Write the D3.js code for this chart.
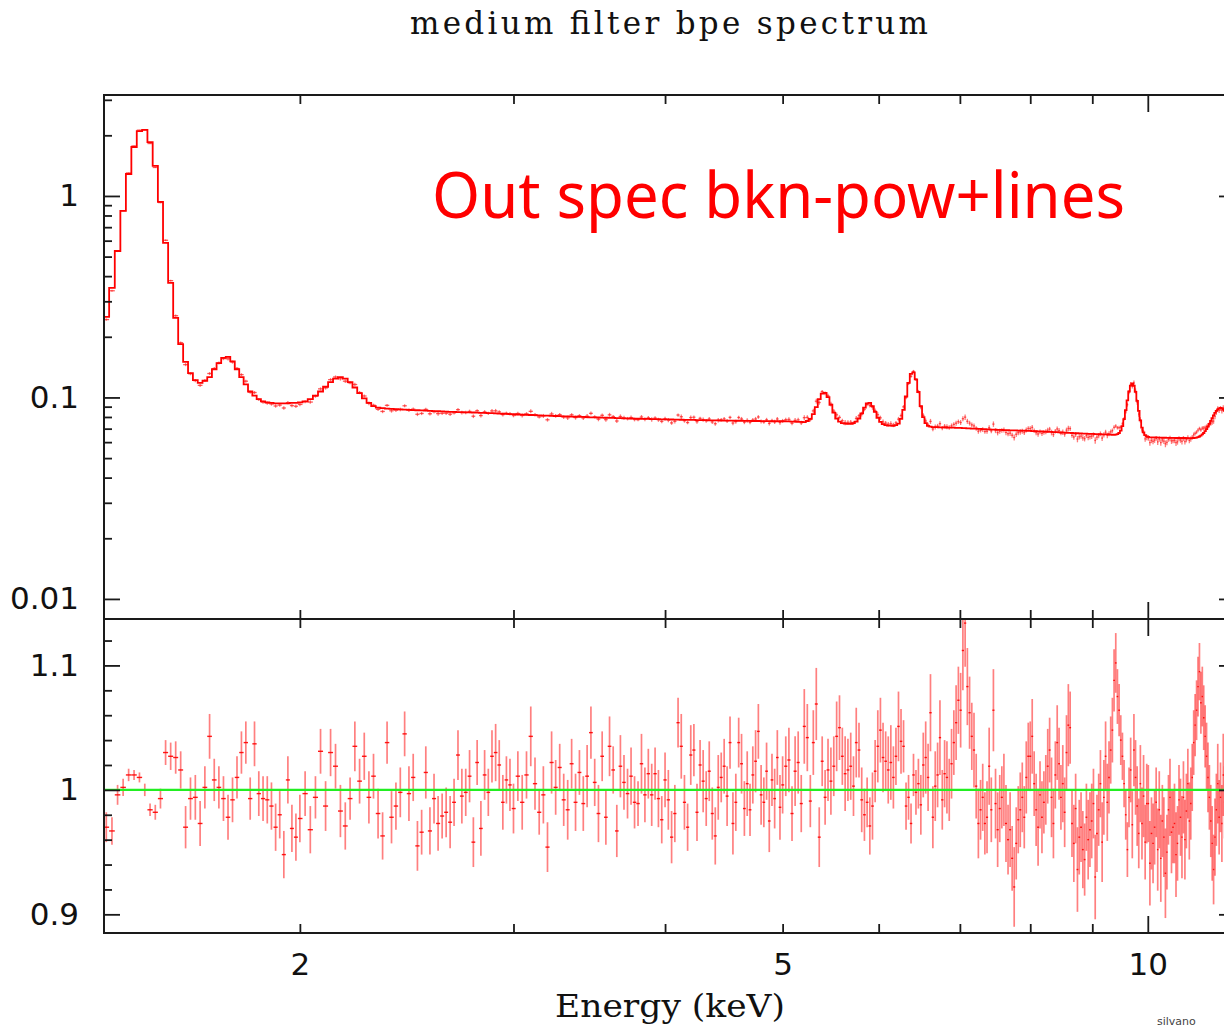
<!DOCTYPE html>
<html>
<head>
<meta charset="utf-8">
<script src="https://cdn.jsdelivr.net/npm/d3@7"></script>
<style>
  html, body { margin: 0; padding: 0; background: #fff; }
  svg { display: block; }
</style>
</head>
<body>
<svg id="chart" width="1224" height="1028"></svg>
<script>
// channel energies (keV)
const energy = [
  1.385,1.4,1.415,1.43,1.445,1.46,1.475,1.49,1.505,1.52,1.535,1.55,1.565,1.58,1.595,1.61,1.625,1.64,1.655,1.67,1.685,
  1.7,1.715,1.73,1.745,1.76,1.775,1.79,1.805,1.82,1.835,1.85,1.865,1.88,1.895,1.91,1.925,1.94,1.955,1.97,1.985,2.0,
  2.02,2.04,2.06,2.08,2.1,2.12,2.14,2.16,2.18,2.2,2.22,2.24,2.26,2.28,2.3,2.32,2.34,2.36,2.38,2.4,2.42,2.44,2.46,2.48,
  2.5,2.52,2.54,2.56,2.58,2.6,2.62,2.64,2.66,2.68,2.7,2.72,2.74,2.76,2.78,2.8,2.82,2.84,2.86,2.88,2.9,2.92,2.94,2.96,2.98,3.0,
  3.025,3.05,3.075,3.1,3.125,3.15,3.175,3.2,3.225,3.25,3.275,3.3,3.325,3.35,3.375,3.4,3.425,3.45,3.475,3.5,
  3.525,3.55,3.575,3.6,3.625,3.65,3.675,3.7,3.725,3.75,3.775,3.8,3.825,3.85,3.875,3.9,3.925,3.95,3.975,4.0,
  4.025,4.05,4.075,4.1,4.125,4.15,4.175,4.2,4.225,4.25,4.275,4.3,4.325,4.35,4.375,4.4,4.425,4.45,4.475,4.5,
  4.525,4.55,4.575,4.6,4.625,4.65,4.675,4.7,4.725,4.75,4.775,4.8,4.825,4.85,4.875,4.9,4.925,4.95,4.975,5.0,
  5.03,5.06,5.09,5.12,5.15,5.18,5.21,5.24,5.27,5.3,5.33,5.36,5.39,5.42,5.45,5.48,5.51,5.54,5.57,5.6,5.63,5.66,5.69,5.72,5.75,5.78,5.81,5.84,5.87,5.9,5.93,5.96,5.99,
  6.02,6.05,6.08,6.11,6.14,6.17,6.2,6.23,6.26,6.29,6.32,6.35,6.38,6.41,6.44,6.47,6.5,6.53,6.56,6.59,6.62,6.65,6.68,6.71,6.74,6.77,6.8,6.83,6.86,6.89,6.92,6.95,6.98,
  7.01,7.04,7.07,7.1,7.13,7.16,7.19,7.22,7.25,7.28,7.31,7.34,7.37,7.4,7.43,7.46,7.49,7.52,7.55,7.58,7.61,7.64,7.67,7.7,7.73,7.76,7.79,7.82,7.85,7.88,7.91,7.94,7.97,
  8.0,8.03,8.06,8.09,8.12,8.15,8.18,8.21,8.24,8.27,8.3,8.33,8.36,8.39,8.42,8.45,8.48,8.51,8.54,8.57,8.6,8.63,8.66,8.69,8.72,8.75,8.78,8.81,8.84,8.87,8.9,8.93,8.96,
  8.99,9.02,9.05,9.08,9.11,9.14,9.17,9.2,9.23,9.26,9.29,9.32,9.35,9.38,9.41,9.44,9.47,9.5,9.53,9.56,9.59,9.62,9.65,9.68,9.71,9.74,9.77,9.8,9.83,9.86,9.89,9.92,9.95,9.98,
  10.01,10.04,10.07,10.1,10.13,10.16,10.19,10.22,10.25,10.28,10.31,10.34,10.37,10.4,10.43,10.46,10.49,10.52,10.55,10.58,10.61,10.64,10.67,10.7,10.73,10.76,10.79,10.82,10.85,10.88,10.91,10.94,10.97,
  11.0,11.03,11.06,11.09,11.12,11.15,11.18,11.21,11.24,11.27,11.3,11.33,11.36,11.39,11.42,11.45,11.48,11.51,11.54,11.57,11.6,11.63,11.66,11.69,11.72,11.75,11.78
];

// folded model (counts/s/keV) per channel
const modelFlux = [
  0.251,0.35,0.533,0.843,1.285,1.75,2.1,2.13,1.85,1.41,0.934,0.585,0.37,0.248,0.184,0.15,0.132,0.122,0.118,0.121,0.126,
  0.138,0.148,0.157,0.159,0.151,0.138,0.126,0.116,0.107,0.102,0.098,0.0955,0.0945,0.094,0.0935,0.0935,0.0935,0.0935,0.094,0.094,0.0945,
  0.0955,0.098,0.102,0.107,0.113,0.119,0.124,0.126,0.124,0.119,0.112,0.105,0.099,0.094,0.0905,0.089,0.0885,0.088,0.0878,0.0875,
  0.0873,0.087,0.0868,0.0866,0.0864,0.0862,0.086,0.0858,0.0856,0.0854,0.0852,0.085,0.0848,0.0847,0.0846,0.0845,0.0844,0.0843,
  0.0842,0.0841,0.0839,0.0838,0.0836,0.0835,0.0833,0.0831,0.083,0.0828,0.0827,0.0826,
  0.0823,0.0822,0.082,0.0818,0.0817,0.0815,0.0813,0.0812,0.081,0.0809,0.0807,0.0806,0.0805,0.0803,0.0802,0.0801,0.08,0.0798,0.0797,0.0796,
  0.0795,0.0794,0.0793,0.0792,0.0791,0.079,0.0789,0.0788,0.0787,0.0786,0.0785,0.0784,0.0783,0.0783,0.0782,0.0781,0.078,0.078,0.0779,0.0778,
  0.0778,0.0777,0.0776,0.0776,0.0775,0.0774,0.0774,0.0773,0.0773,0.0772,0.0772,0.0771,0.0771,0.077,0.077,0.0769,0.0769,0.0768,0.0768,0.0768,
  0.0767,0.0767,0.0766,0.0766,0.0766,0.0765,0.0765,0.0765,0.0764,0.0764,0.0764,0.0763,0.0763,0.0763,0.0763,0.0762,0.0762,0.0762,0.0762,0.0762,
  0.0761,0.076,0.0759,0.0758,0.0757,0.0756,0.0755,0.0764,0.0783,0.0826,0.0896,0.0981,0.1045,0.1054,0.1003,0.092,0.084,0.0786,0.0758,0.0746,
  0.0741,0.074,0.0739,0.0745,0.0758,0.0786,0.0833,0.089,0.0933,0.0939,0.0905,0.0848,0.0793,
  0.0756,0.0737,0.0729,0.0725,0.0724,0.0723,0.0728,0.0742,0.0782,0.0868,0.1011,0.118,0.1309,0.1331,0.123,0.1064,0.0906,0.0799,0.0745,0.0723,
  0.0716,0.0713,0.0712,0.0712,0.0711,0.0711,0.071,0.0709,0.0709,0.0708,0.0708,0.0707,0.0707,
  0.0706,0.0705,0.0704,0.0703,0.0702,0.0701,0.07,0.07,0.0699,0.0698,0.0697,0.0696,0.0695,0.0694,0.0693,0.0693,0.0692,0.0691,0.069,0.069,
  0.0689,0.0689,0.0688,0.0687,0.0687,0.0686,0.0686,0.0685,0.0685,0.0684,0.0684,0.0683,0.0683,
  0.0682,0.0681,0.0681,0.068,0.0679,0.0678,0.0678,0.0677,0.0676,0.0675,0.0675,0.0674,0.0673,0.0672,0.0672,0.0671,0.067,0.0669,0.0669,0.0668,
  0.0667,0.0667,0.0666,0.0665,0.0665,0.0664,0.0663,0.0663,0.0662,0.0661,0.0661,0.066,0.066,
  0.0659,0.0659,0.0658,0.0658,0.0657,0.0657,0.0656,0.0656,0.0655,0.0655,0.0654,0.0654,0.0653,0.0653,0.0654,0.0658,0.0666,0.0685,0.0721,0.078,
  0.0865,0.0968,0.107,0.1145,0.1173,0.1143,0.1066,0.0962,0.0857,0.077,0.0709,0.0671,0.065,0.0641,
  0.0637,0.0634,0.0634,0.0633,0.0633,0.0633,0.0632,0.0632,0.0632,0.0631,0.0631,0.0631,0.063,0.063,0.063,0.063,0.063,0.063,0.0629,0.0629,
  0.0629,0.0629,0.0629,0.0629,0.0629,0.0628,0.0628,0.0628,0.0628,0.0628,0.0629,0.063,0.0632,
  0.0635,0.064,0.0646,0.0655,0.0666,0.068,0.0697,0.0717,0.074,0.0765,0.079,0.0815,0.0838,0.0858,0.0873,0.0883,0.0887,0.0884,0.0874,0.0858,
  0.0838,0.0815,0.079,0.0765,0.074,0.0717,0.0697
];

// data / model ratio per channel
const ratio = [
  0.97,0.967,0.996,1.002,1.012,1.012,1.01,1.0,0.984,0.982,0.993,1.03,1.027,1.026,1.016,0.97,0.993,0.994,0.973,1.002,1.043,
  1.008,1.002,0.993,0.978,0.992,1.01,1.03,1.038,0.993,1.037,0.997,0.993,0.992,0.987,0.97,0.98,0.948,1.008,0.969,0.962,0.977,
  0.997,0.968,0.994,1.031,0.987,1.03,1.019,0.983,0.971,0.993,1.035,1.007,1.027,0.994,1.011,0.981,0.963,1.038,0.978,0.987,
  0.998,1.045,0.997,1.01,0.955,0.966,1.014,0.967,0.993,0.973,0.979,0.982,0.974,0.99,1.028,0.995,0.998,1.011,0.958,1.022,
  0.969,1.012,0.998,1.027,1.03,1.02,0.99,1.008,1.004,0.985,
  1.011,0.99,1.012,1.043,1.005,0.982,0.996,0.954,1.022,1.002,1.018,0.992,0.984,1.021,0.99,1.014,0.989,1.011,1.046,1.006,
  0.981,1.027,0.978,1.035,1.016,0.967,1.019,1.006,0.997,1.011,0.99,0.989,1.021,0.996,1.013,0.996,1.013,0.993,0.976,1.008,
  0.992,0.962,0.981,1.054,1.035,0.99,0.97,1.028,1.032,0.982,1.02,1.007,0.993,1.015,
  0.981,0.963,1.002,1.01,1.019,0.995,1.038,0.973,0.99,1.038,1.021,0.985,1.005,0.984,1.012,1.023,1.047,0.996,0.99,1.015,
  0.975,1.008,0.993,1.026,0.986,1.004,
  1.019,1.024,0.981,1.015,1.022,0.989,1.051,1.042,0.991,1.038,1.069,0.962,1.023,0.994,1.016,1.007,1.019,1.043,1.05,1.027,
  1.013,1.016,1.019,1.003,1.038,1.032,0.992,0.98,0.99,0.971,0.987,1.015,1.035,
  1.048,1.026,1.023,1.016,1.022,1.01,1.027,1.051,1.039,1.035,0.987,0.994,0.973,1.012,0.998,1.005,0.988,1.02,1.026,1.01,
  1.062,0.978,1.003,1.012,1.042,0.992,1.013,1.01,1.0,1.021,1.038,1.054,1.072,
  1.064,1.112,1.134,1.083,1.062,1.043,1.032,1.003,0.973,0.984,0.994,0.973,0.978,1.019,0.984,1.064,0.989,0.968,0.985,0.994,
  1.0,0.973,0.96,0.968,0.945,0.922,0.957,0.976,0.984,0.994,0.978,1.01,1.027,
  1.027,1.043,1.005,0.984,0.97,0.996,0.978,0.99,1.0,1.019,1.032,0.994,0.973,1.012,1.038,1.021,0.994,1.005,0.982,1.03,
  1.052,1.05,0.973,0.957,0.985,0.936,0.962,0.97,0.952,0.944,0.978,0.96,0.968,
  0.975,0.989,0.93,0.965,0.984,1.005,0.958,0.994,1.027,0.99,1.01,1.032,1.048,1.088,1.102,1.075,1.064,1.04,1.027,1.005,
  0.98,0.952,0.994,1.016,0.972,1.032,1.01,0.987,0.965,1.005,0.973,0.995,0.958,0.989,
  0.989,0.941,0.965,0.957,0.97,0.99,0.952,0.984,0.945,0.975,0.962,0.933,0.95,0.984,0.994,0.966,0.97,0.973,0.948,0.957,
  0.992,0.978,0.962,0.994,0.96,0.983,1.005,0.975,0.989,1.01,1.038,1.052,1.064,
  1.083,1.095,1.07,1.075,1.058,1.043,1.027,1.01,0.994,0.975,0.957,0.936,0.962,0.984,1.005,0.978,0.994,0.973,1.012,0.99,
  1.02,0.985,1.004,0.97,0.998,1.015,0.988
];

// 1-sigma error on the ratio
const ratioErr = [
  0.012,0.011,0.008,0.007,0.005,0.004,0.004,0.005,0.005,0.006,0.008,0.01,0.011,0.013,0.015,0.017,0.017,0.018,0.018,0.017,0.018,
  0.017,0.017,0.018,0.018,0.018,0.017,0.017,0.017,0.017,0.018,0.018,0.018,0.019,0.019,0.019,0.019,0.019,0.019,0.019,0.019,0.019,
  0.018,0.019,0.017,0.018,0.02,0.019,0.018,0.021,0.019,0.017,0.02,0.018,0.019,0.021,0.018,0.02,0.019,0.017,0.021,0.019,
  0.02,0.018,0.022,0.019,0.02,0.018,0.021,0.019,0.02,0.022,0.018,0.02,0.021,0.019,0.02,0.022,0.019,0.021,0.02,0.018,
  0.022,0.02,0.019,0.021,0.023,0.02,0.022,0.019,0.021,0.02,
  0.02,0.022,0.019,0.024,0.021,0.018,0.023,0.02,0.025,0.022,0.019,0.021,0.024,0.02,0.023,0.018,0.022,0.025,0.021,0.019,
  0.023,0.02,0.022,0.024,0.019,0.021,0.025,0.022,0.02,0.023,0.021,0.018,0.024,0.022,0.02,0.025,0.021,0.023,0.019,0.022,
  0.024,0.021,0.023,0.02,0.026,0.022,0.019,0.024,0.021,0.023,0.02,0.025,0.022,0.024,0.021,0.023,0.026,0.02,0.022,0.024,
  0.021,0.025,0.023,0.02,0.024,0.022,0.026,0.021,0.023,0.025,0.022,0.024,0.02,0.023,0.025,0.021,0.024,0.022,0.026,0.023,
  0.024,0.026,0.022,0.028,0.025,0.023,0.03,0.027,0.021,0.026,0.029,0.024,0.02,0.022,0.025,0.027,0.024,0.028,0.026,0.023,
  0.03,0.025,0.027,0.024,0.028,0.022,0.026,0.021,0.02,0.023,0.027,0.025,0.029,
  0.026,0.028,0.024,0.027,0.03,0.025,0.023,0.028,0.026,0.021,0.019,0.018,0.016,0.017,0.018,0.02,0.024,0.026,0.029,0.027,
  0.031,0.025,0.028,0.026,0.03,0.024,0.027,0.029,0.025,0.028,0.026,0.03,0.027,
  0.03,0.032,0.035,0.031,0.029,0.027,0.03,0.026,0.028,0.024,0.027,0.025,0.029,0.031,0.026,0.033,0.028,0.03,0.027,0.025,
  0.029,0.031,0.028,0.03,0.026,0.032,0.029,0.027,0.03,0.028,0.025,0.029,0.027,
  0.028,0.03,0.026,0.029,0.031,0.027,0.029,0.025,0.028,0.03,0.026,0.032,0.028,0.027,0.03,0.029,0.026,0.031,0.028,0.03,
  0.033,0.029,0.027,0.031,0.028,0.034,0.03,0.028,0.031,0.029,0.027,0.032,0.03,
  0.03,0.028,0.034,0.031,0.029,0.027,0.032,0.03,0.028,0.031,0.029,0.027,0.026,0.025,0.024,0.022,0.021,0.02,0.019,0.019,
  0.02,0.022,0.024,0.026,0.027,0.029,0.03,0.032,0.028,0.031,0.029,0.033,0.03,0.032,
  0.031,0.034,0.029,0.032,0.03,0.028,0.033,0.031,0.035,0.029,0.032,0.036,0.03,0.028,0.031,0.033,0.029,0.032,0.034,0.03,
  0.028,0.031,0.033,0.029,0.032,0.03,0.028,0.031,0.029,0.027,0.026,0.025,0.024,
  0.024,0.023,0.025,0.024,0.026,0.025,0.027,0.028,0.026,0.029,0.03,0.028,0.031,0.029,0.032,0.03,0.028,0.031,0.033,0.029,
  0.032,0.03,0.028,0.031,0.029,0.032,0.03
];

// axis ticks
const xLabelTicks = [2, 5, 10];
const xMinorTicks = [2, 3, 4, 5, 6, 7, 8, 9];
const xMajorTicks = [10];
const fluxMajorTicks = [0.01, 0.1, 1];
const fluxMinorTicks = [0.02, 0.03, 0.04, 0.05, 0.06, 0.07, 0.08, 0.09, 0.2, 0.3, 0.4, 0.5, 0.6, 0.7, 0.8, 0.9, 2, 3];
const ratioMajorTicks = [0.9, 1, 1.1];
const ratioMinorTicks = [0.92, 0.94, 0.96, 0.98, 1.02, 1.04, 1.06, 1.08, 1.12];

const svg = d3.select('#chart');
const padL = 104, padR = 1235, yTop = 95, yMid = 619, yBottom = 933;

const x = d3.scaleLog().domain([1.379, 11.8]).range([padL, padR]);
const yFlux = d3.scaleLog().domain([0.00795, 3.17]).range([yMid, yTop]);
const yRatio = d3.scaleLinear().domain([0.885, 1.1373]).range([yBottom, yMid]);

const n = Math.min(energy.length, modelFlux.length, ratio.length, ratioErr.length);
const bins = [];
for (let i = 0; i < n; i++) {
  const e = energy[i];
  const prev = i > 0 ? energy[i - 1] : e - (energy[1] - energy[0]);
  const next = i < n - 1 ? energy[i + 1] : e + (e - energy[i - 1]);
  bins.push({ e: e, lo: (prev + e) / 2, hi: (e + next) / 2, m: modelFlux[i], r: ratio[i], err: ratioErr[i] });
}

const defs = svg.append('defs');
defs.append('clipPath').attr('id', 'clipTop').append('rect')
  .attr('x', padL).attr('y', yTop).attr('width', padR - padL).attr('height', yMid - yTop);
defs.append('clipPath').attr('id', 'clipBot').append('rect')
  .attr('x', padL).attr('y', yMid).attr('width', padR - padL).attr('height', yBottom - yMid);

/* Top panel: data crosses + model histogram */
const topG = svg.append('g').attr('clip-path', 'url(#clipTop)');
topG.selectAll('line.fv').data(bins).enter().append('line')
  .attr('class', 'fv')
  .attr('x1', d => x(d.e)).attr('x2', d => x(d.e))
  .attr('y1', d => yFlux(d.m * (d.r - d.err))).attr('y2', d => yFlux(d.m * (d.r + d.err)))
  .attr('stroke', '#ff2020').attr('stroke-opacity', 0.6).attr('stroke-width', 1.3);
topG.selectAll('line.fh').data(bins).enter().append('line')
  .attr('class', 'fh')
  .attr('x1', d => x(d.lo)).attr('x2', d => x(d.hi))
  .attr('y1', d => yFlux(d.m * d.r)).attr('y2', d => yFlux(d.m * d.r))
  .attr('stroke', '#ff2020').attr('stroke-opacity', 0.75).attr('stroke-width', 1.3);

const stepPts = bins.map(d => [d.lo, d.m]);
stepPts.push([bins[n - 1].hi, bins[n - 1].m]);
topG.append('path')
  .datum(stepPts)
  .attr('fill', 'none')
  .attr('stroke', '#ff0000')
  .attr('stroke-width', 1.8)
  .attr('d', d3.line().x(d => x(d[0])).y(d => yFlux(d[1])).curve(d3.curveStepAfter));

/* Bottom panel: ratio */
const botG = svg.append('g').attr('clip-path', 'url(#clipBot)');
botG.selectAll('line.rv').data(bins).enter().append('line')
  .attr('class', 'rv')
  .attr('x1', d => x(d.e)).attr('x2', d => x(d.e))
  .attr('y1', d => yRatio(d.r - d.err)).attr('y2', d => yRatio(d.r + d.err))
  .attr('stroke', '#ff0000').attr('stroke-opacity', 0.5).attr('stroke-width', 1.7);
botG.selectAll('line.rh').data(bins).enter().append('line')
  .attr('class', 'rh')
  .attr('x1', d => x(d.lo)).attr('x2', d => x(d.hi))
  .attr('y1', d => yRatio(d.r)).attr('y2', d => yRatio(d.r))
  .attr('stroke', '#ff0000').attr('stroke-opacity', 0.9).attr('stroke-width', 1.4);
botG.append('line')
  .attr('x1', padL).attr('x2', padR)
  .attr('y1', yRatio(1)).attr('y2', yRatio(1))
  .attr('stroke', '#22ee22').attr('stroke-width', 2.4);

/* Axes (ticks point inward) */
function ticks(axis, tr, values, size, fmt, pad) {
  const g = svg.append('g').attr('transform', tr)
    .call(axis.tickValues(values).tickSize(-size).tickPadding(pad || 0).tickFormat(fmt || (() => '')));
  g.select('.domain').remove();
  g.selectAll('line').attr('stroke', '#1a1a1a').attr('stroke-width', 1.8);
  g.selectAll('text').attr('font-family', 'DejaVu Sans').attr('font-size', 31).attr('fill', '#111');
  return g;
}
const fmt = d3.format('~g');

ticks(d3.axisLeft(yFlux), `translate(${padL},0)`, fluxMajorTicks, 16, fmt, 25);
ticks(d3.axisLeft(yFlux), `translate(${padL},0)`, fluxMinorTicks, 8);
ticks(d3.axisRight(yFlux), `translate(${padR},0)`, fluxMajorTicks, 16);
ticks(d3.axisRight(yFlux), `translate(${padR},0)`, fluxMinorTicks, 8);

ticks(d3.axisLeft(yRatio), `translate(${padL},0)`, ratioMajorTicks, 16, fmt, 25);
ticks(d3.axisLeft(yRatio), `translate(${padL},0)`, ratioMinorTicks, 8);
ticks(d3.axisRight(yRatio), `translate(${padR},0)`, ratioMajorTicks, 16);
ticks(d3.axisRight(yRatio), `translate(${padR},0)`, ratioMinorTicks, 8);

ticks(d3.axisTop(x), `translate(0,${yTop})`, xMajorTicks, 17);
ticks(d3.axisTop(x), `translate(0,${yTop})`, xMinorTicks, 9);
ticks(d3.axisBottom(x), `translate(0,${yMid})`, xMajorTicks, 17);
ticks(d3.axisBottom(x), `translate(0,${yMid})`, xMinorTicks, 9);
ticks(d3.axisTop(x), `translate(0,${yMid})`, xMajorTicks, 17);
ticks(d3.axisTop(x), `translate(0,${yMid})`, xMinorTicks, 9);
ticks(d3.axisBottom(x), `translate(0,${yBottom})`, xMajorTicks, 17);
ticks(d3.axisBottom(x), `translate(0,${yBottom})`, xMinorTicks, 9);
ticks(d3.axisBottom(x), `translate(0,${yBottom})`, xLabelTicks, 0, fmt, 20);

/* Frames */
[[yTop, yMid], [yMid, yBottom]].forEach(p => {
  svg.append('rect')
    .attr('x', padL).attr('y', p[0]).attr('width', padR - padL).attr('height', p[1] - p[0])
    .attr('fill', 'none').attr('stroke', '#1a1a1a').attr('stroke-width', 2);
});

/* Texts */
svg.append('text')
  .attr('x', 669).attr('y', 34).attr('text-anchor', 'middle')
  .attr('font-family', 'DejaVu Serif').attr('font-size', 31).attr('fill', '#111')
  .attr('textLength', 518).attr('lengthAdjust', 'spacing')
  .text('medium filter bpe spectrum');

svg.append('text')
  .attr('x', 432).attr('y', 218)
  .attr('font-family', "'Comic Sans MS', 'Noto Sans', sans-serif").attr('font-size', 63).attr('fill', '#ff0000')
  .attr('textLength', 693).attr('lengthAdjust', 'spacingAndGlyphs')
  .text('Out spec bkn-pow+lines');

svg.append('text')
  .attr('x', 670).attr('y', 1017).attr('text-anchor', 'middle')
  .attr('font-family', 'DejaVu Serif').attr('font-size', 31).attr('fill', '#111')
  .attr('textLength', 230).attr('lengthAdjust', 'spacingAndGlyphs')
  .text('Energy (keV)');

svg.append('text')
  .attr('x', 1157).attr('y', 1025)
  .attr('font-family', 'DejaVu Sans').attr('font-size', 11).attr('fill', '#444')
  .text('silvano');
</script>
</body>
</html>
